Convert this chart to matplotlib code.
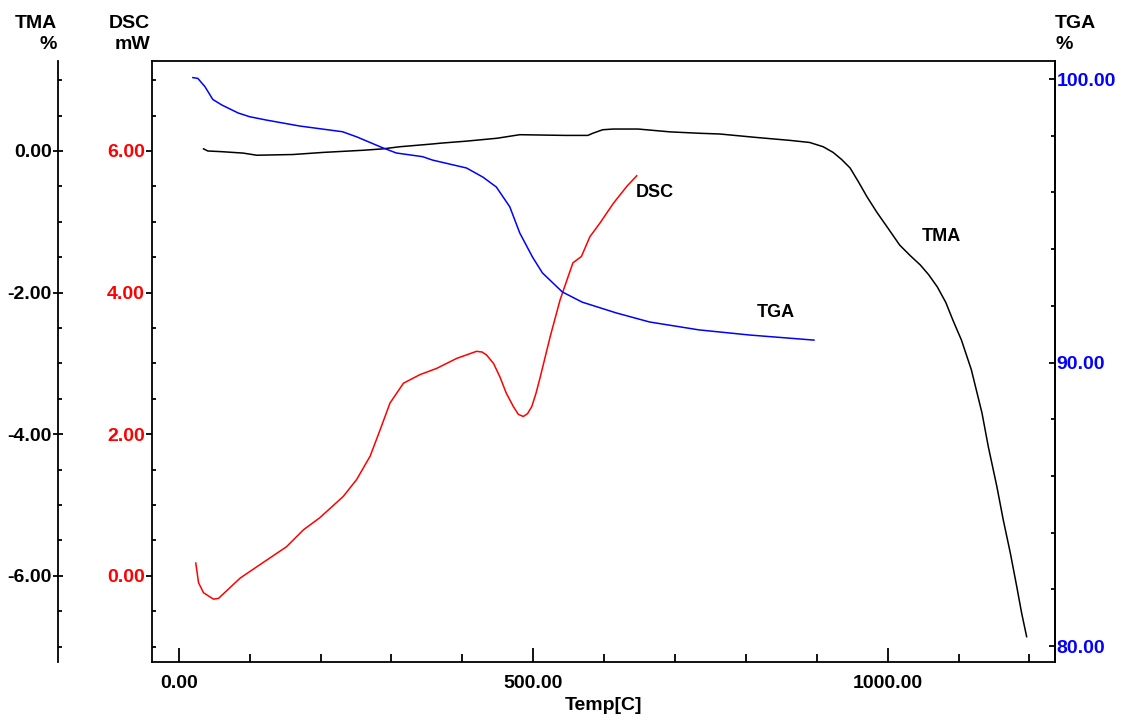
import matplotlib
matplotlib.use('Agg')
import matplotlib.pyplot as plt
from matplotlib.ticker import MultipleLocator, FormatStrFormatter

plt.rcParams['font.family'] = ['Liberation Sans', 'DejaVu Sans']
plt.rcParams['font.weight'] = 'bold'

# TGA (%)
tga_t = [20, 27, 37, 48, 61, 84, 100, 124, 171, 231, 251, 288, 307, 344, 358,
         406, 429, 448, 467, 481, 499, 513, 541, 569, 617, 664, 734, 805, 896]
tga_v = [100.05, 100.02, 99.73, 99.28, 99.08, 98.80, 98.67, 98.55, 98.34, 98.14,
         97.96, 97.57, 97.39, 97.26, 97.14, 96.86, 96.54, 96.19, 95.49, 94.57,
         93.72, 93.16, 92.49, 92.13, 91.75, 91.43, 91.15, 90.97, 90.79]

# TMA (%)
tma_t = [35, 41, 61, 91, 110, 161, 204, 260, 288, 312, 359, 369, 407, 449, 481,
         545, 577, 584, 598, 613, 648, 693, 735, 763, 816, 862, 890, 909, 923,
         935, 947, 959, 971, 985, 999, 1017, 1032, 1046, 1058, 1070, 1082, 1092,
         1104, 1118, 1133, 1142, 1154, 1163, 1173, 1182, 1189, 1196]
tma_v = [0.03, 0.00, -0.01, -0.03, -0.06, -0.05, -0.02, 0.01, 0.03, 0.06, 0.10,
         0.11, 0.14, 0.18, 0.23, 0.22, 0.22, 0.25, 0.30, 0.31, 0.31, 0.27, 0.25,
         0.24, 0.19, 0.15, 0.12, 0.06, -0.02, -0.12, -0.24, -0.44, -0.65, -0.87,
         -1.07, -1.33, -1.48, -1.61, -1.75, -1.92, -2.14, -2.39, -2.67, -3.09,
         -3.70, -4.18, -4.74, -5.21, -5.68, -6.15, -6.53, -6.86]

# DSC (mW)
dsc_t = [24, 28, 35, 49, 56, 87, 115, 152, 176, 199, 232, 251, 270, 284, 298,
         317, 340, 364, 392, 420, 428, 434, 444, 453, 462, 472, 479, 486, 492,
         498, 504, 510, 524, 538, 556, 568, 580, 594, 613, 632, 646]
dsc_v = [0.18, -0.10, -0.24, -0.33, -0.32, -0.03, 0.16, 0.41, 0.65, 0.82, 1.12,
         1.36, 1.69, 2.06, 2.44, 2.72, 2.84, 2.93, 3.07, 3.17, 3.16, 3.12, 3.00,
         2.81, 2.58, 2.39, 2.28, 2.25, 2.29, 2.39, 2.58, 2.81, 3.38, 3.90, 4.42,
         4.51, 4.79, 4.98, 5.26, 5.50, 5.65]

fig = plt.figure(figsize=(11.25, 7.21), dpi=100)
ax = fig.add_axes([152/1125, 59/721, 903/1125, 601/721])
ax_tma = ax.twinx()
ax_tga = ax.twinx()

ax.plot(dsc_t, dsc_v, color='red', lw=1.1)
ax_tma.plot(tma_t, tma_v, color='black', lw=1.1)
ax_tga.plot(tga_t, tga_v, color='blue', lw=1.1)

ax.set_xlim(-37.7, 1236)
ax.set_ylim(-1.218, 7.271)
ax_tma.set_ylim(-7.218, 1.271)
ax_tga.set_ylim(79.436, 100.635)

for a in (ax, ax_tma, ax_tga):
    for s in a.spines.values():
        s.set_linewidth(1.3)

# x axis
ax.xaxis.set_major_locator(MultipleLocator(500))
ax.xaxis.set_minor_locator(MultipleLocator(100))
ax.xaxis.set_major_formatter(FormatStrFormatter('%.2f'))
ax.tick_params(axis='x', which='major', direction='in', length=10, width=1.3,
               labelsize=14, pad=9, top=False)
ax.tick_params(axis='x', which='minor', direction='in', length=6, width=1.3, top=False)
ax.set_xlabel('Temp[C]', fontsize=14, fontweight='bold', labelpad=4)

# DSC axis (left of box)
ax.yaxis.set_major_locator(MultipleLocator(2))
ax.yaxis.set_minor_locator(MultipleLocator(0.5))
ax.yaxis.set_major_formatter(FormatStrFormatter('%.2f'))
ax.tick_params(axis='y', which='major', direction='out', length=4, width=1.3,
               labelsize=14, labelcolor='red', pad=1)
ax.tick_params(axis='y', which='minor', direction='in', length=3, width=1.3)

# TMA axis (far left)
ax_tma.yaxis.set_ticks_position('left')
ax_tma.spines['left'].set_position(('axes', -94/903))
for side in ('right', 'top', 'bottom'):
    ax_tma.spines[side].set_visible(False)
ax_tma.yaxis.set_major_locator(MultipleLocator(2))
ax_tma.yaxis.set_minor_locator(MultipleLocator(0.5))
ax_tma.yaxis.set_major_formatter(FormatStrFormatter('%.2f'))
ax_tma.tick_params(axis='y', which='major', direction='inout', length=7, width=1.3,
                   labelsize=14, pad=1)
ax_tma.tick_params(axis='y', which='minor', direction='in', length=3, width=1.3)

# TGA axis (right)
for side in ('left', 'top', 'bottom'):
    ax_tga.spines[side].set_visible(False)
ax_tga.yaxis.set_major_locator(MultipleLocator(10))
ax_tga.yaxis.set_minor_locator(MultipleLocator(2))
ax_tga.yaxis.set_major_formatter(FormatStrFormatter('%.2f'))
ax_tga.tick_params(axis='y', which='major', direction='in', length=4, width=1.3,
                   labelsize=14, labelcolor='blue', pad=1)
ax_tga.tick_params(axis='y', which='minor', direction='in', length=3, width=1.3)

# axis titles
fig.text(57/1125, 1 - 15/721, 'TMA\n%', ha='right', va='top', fontsize=14,
         fontweight='bold', linespacing=1.3)
fig.text(150/1125, 1 - 15/721, 'DSC\nmW', ha='right', va='top', fontsize=14,
         fontweight='bold', linespacing=1.3)
fig.text(1055/1125, 1 - 15/721, 'TGA\n%', ha='left', va='top', fontsize=14,
         fontweight='bold', linespacing=1.3)

# curve labels
ax.text(645, 5.42, 'DSC', fontsize=13, fontweight='bold', va='center')
ax_tga.text(816, 91.75, 'TGA', fontsize=13, fontweight='bold', va='center')
ax_tma.text(1048, -1.21, 'TMA', fontsize=13, fontweight='bold', va='center')

fig.savefig('out.png', dpi=100)
